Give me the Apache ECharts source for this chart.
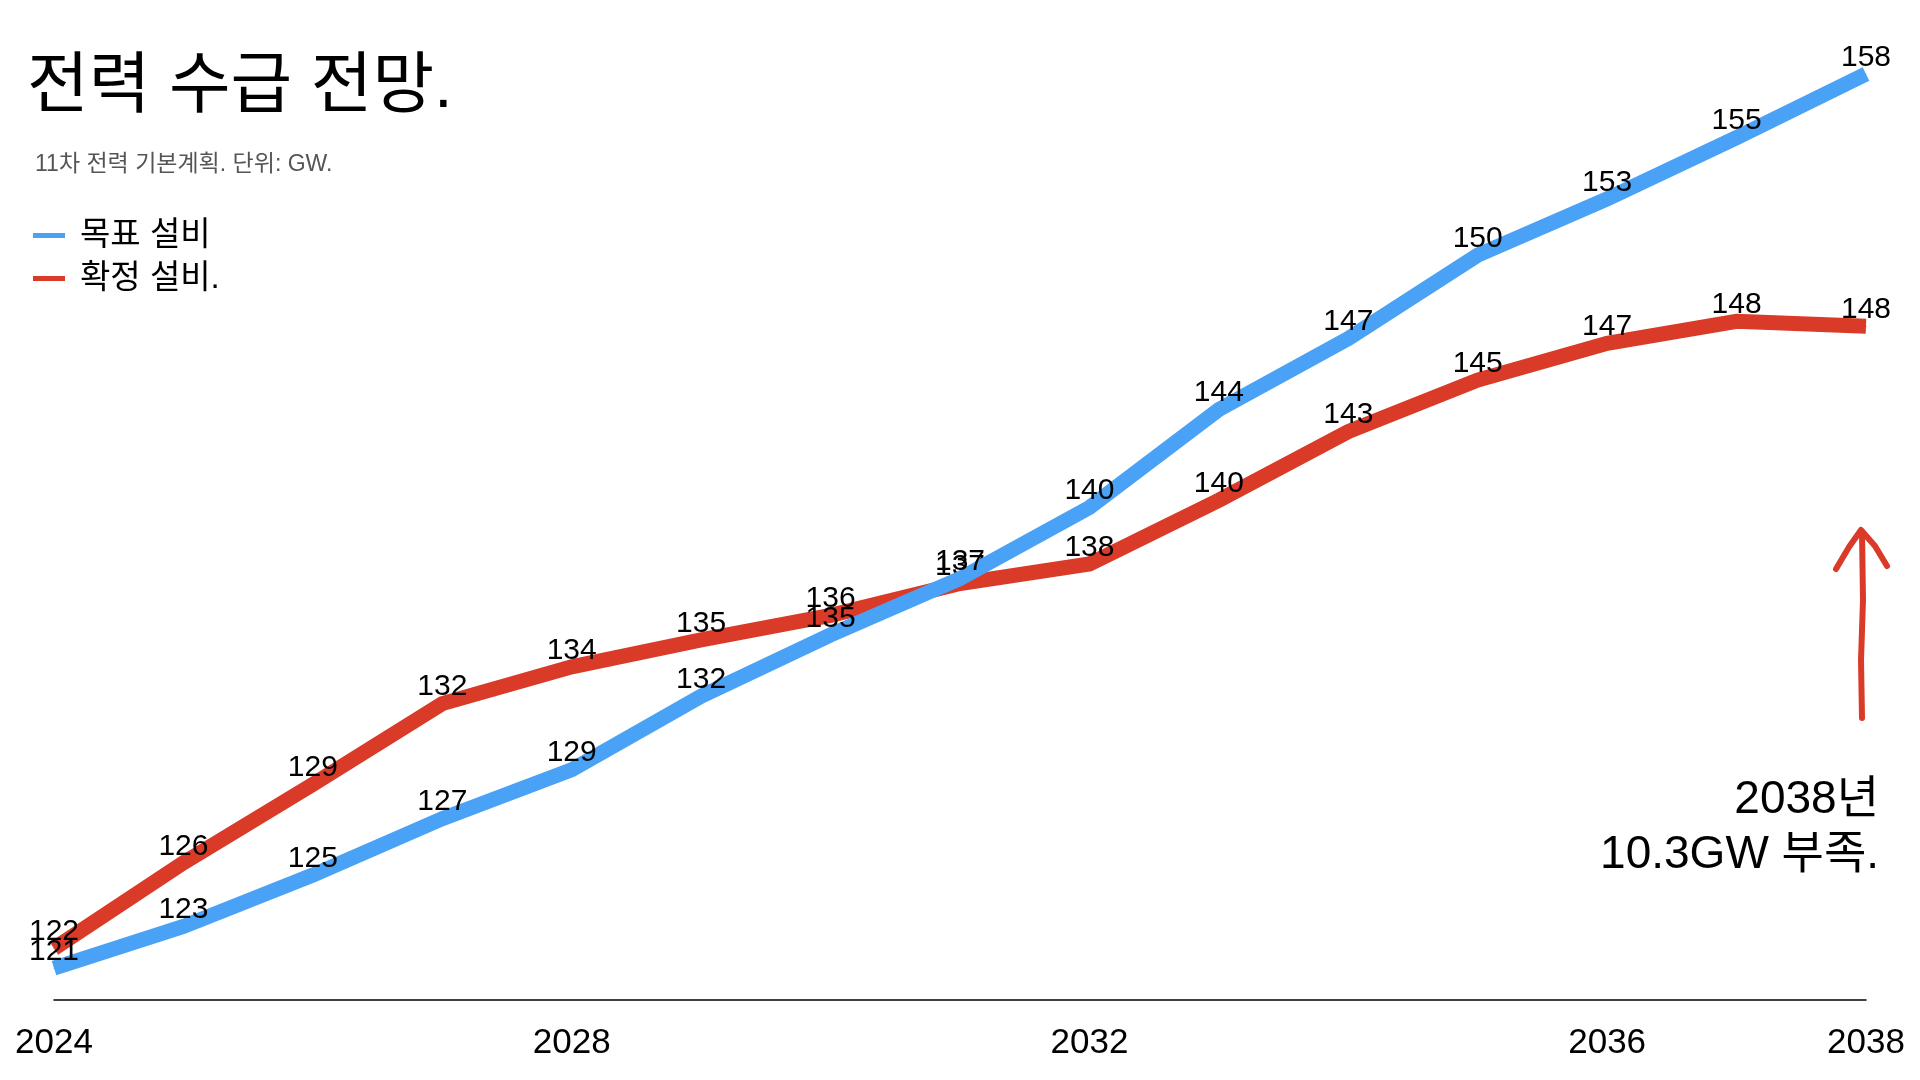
<!DOCTYPE html>
<html>
<head>
<meta charset="utf-8">
<script src="https://cdn.jsdelivr.net/npm/echarts@6/dist/echarts.min.js"></script>
<style>
html,body{margin:0;padding:0;background:#fff;}
#chart{width:1920px;height:1080px;}
</style>
</head>
<body>
<div id="chart"></div>
<script>
const years = ['2024','2025','2026','2027','2028','2029','2030','2031','2032','2033','2034','2035','2036','2037','2038'];
const tickLabels = ['2024','2028','2032','2036','2038'];
const targetCapacity = [121.3,123.0,125.1,127.4,129.4,132.4,134.9,137.2,140.1,144.1,147.0,150.4,152.7,155.2,157.8];
const confirmedCapacity = [122.1,125.6,128.8,132.1,133.6,134.7,135.7,137.0,137.8,140.4,143.2,145.3,146.8,147.7,147.5];
const seriesNames = ['목표 설비','확정 설비.'];
const titleText = '전력 수급 전망.';
const subtitleText = '11차 전력 기본계획. 단위: GW.';
const noteLines = ['2038년','10.3GW 부족.'];

const FONT = '"Liberation Sans","Noto Sans CJK KR",sans-serif';
const BLUE = '#4AA2F6';
const RED = '#D93B28';

const chart = echarts.init(document.getElementById('chart'));

const labelCfg = {
  show: true,
  position: 'top',
  distance: 1,
  color: '#000',
  fontSize: 30,
  fontFamily: FONT,
  formatter: p => Math.round(p.value)
};

chart.setOption({
  backgroundColor: '#fff',
  animation: false,
  title: [
    { text: titleText, left: 22, top: 50,
      textStyle: { fontSize: 67, fontWeight: 'normal', color: '#000', fontFamily: FONT } },
    { text: subtitleText, left: 30, top: 148,
      textStyle: { fontSize: 23, fontWeight: 'normal', color: '#555', fontFamily: FONT } }
  ],
  legend: {
    data: seriesNames,
    orient: 'vertical',
    left: 28,
    top: 214,
    itemWidth: 32,
    itemHeight: 5,
    itemGap: 10,
    icon: 'rect',
    textStyle: { fontSize: 33, color: '#000', fontFamily: FONT, padding: [0,0,0,10] }
  },
  grid: { left: 54, right: 54, top: 20, bottom: 80, containLabel: false },
  xAxis: {
    type: 'category',
    data: years,
    boundaryGap: false,
    axisLine: { lineStyle: { color: '#000', width: 1.5 } },
    axisTick: { show: false },
    axisLabel: {
      interval: (i, v) => tickLabels.indexOf(v) >= 0,
      color: '#000', fontSize: 35, fontFamily: FONT, margin: 26
    },
    splitLine: { show: false }
  },
  yAxis: {
    type: 'value', min: 120, max: 160,
    show: false, splitLine: { show: false }
  },
  series: [
    {
      name: seriesNames[1], type: 'line', data: confirmedCapacity,
      symbol: 'circle', symbolSize: 1, showSymbol: true,
      lineStyle: { color: RED, width: 15, cap: 'butt', join: 'miter' },
      itemStyle: { color: RED },
      label: labelCfg, z: 2
    },
    {
      name: seriesNames[0], type: 'line', data: targetCapacity,
      symbol: 'circle', symbolSize: 1, showSymbol: true,
      lineStyle: { color: BLUE, width: 15, cap: 'butt', join: 'miter' },
      itemStyle: { color: BLUE },
      label: labelCfg, z: 3
    }
  ],
  graphic: [
    {
      type: 'text', right: 41, top: 773,
      style: { text: noteLines.join('\n'), lineHeight: 55, fill: '#000',
               font: '46px ' + FONT, textAlign: 'right' }
    },
    {
      type: 'polyline', silent: true,
      shape: { points: [[1862,718],[1861,660],[1863,600],[1862,532]] },
      style: { stroke: RED, lineWidth: 6, lineCap: 'round', lineJoin: 'round', fill: null }
    },
    {
      type: 'polyline', silent: true,
      shape: { points: [[1836,569],[1849,547],[1861,530],[1875,546],[1887,566]] },
      style: { stroke: RED, lineWidth: 6, lineCap: 'round', lineJoin: 'round', fill: null }
    }
  ]
});
</script>
</body>
</html>
